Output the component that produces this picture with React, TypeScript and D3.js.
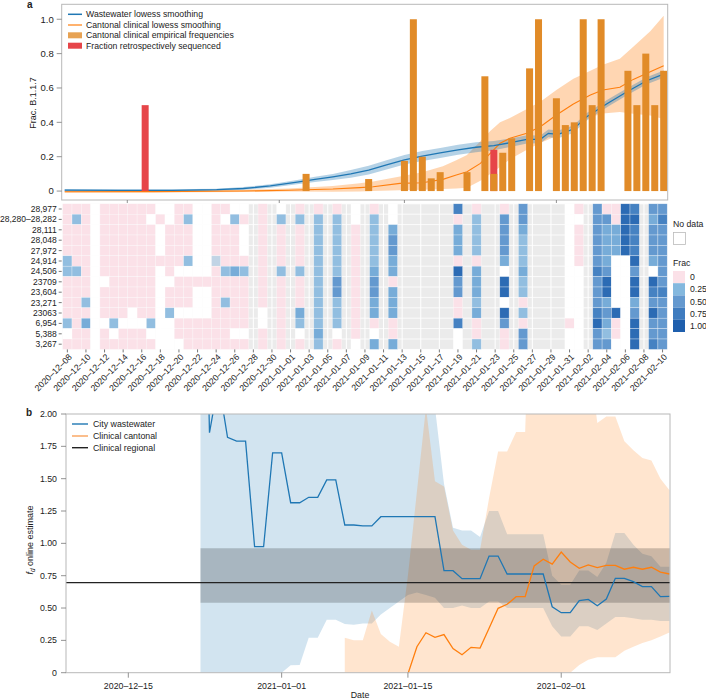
import React from "react";
import * as d3 from "d3";

const FONT = "'Liberation Sans', Arial, Helvetica, sans-serif";
const DAY_MS = 86400000;
const utc = (s: string) => new Date(s + "T00:00:00Z");
const addDays = (s: string, n: number) => new Date(utc(s).getTime() + n * DAY_MS);

// ---------------- Panel a ----------------
const A_START = "2020-12-08";
// [day offset from A_START, estimate, lower, upper]
const WW_LOWESS: number[][] = [
  [0, 0.005, -0.002, 0.012], [6, 0.004, -0.002, 0.01], [12, 0.004, -0.002, 0.01],
  [17, 0.008, 0.002, 0.014], [20, 0.015, 0.007, 0.023], [23, 0.03, 0.02, 0.04],
  [26, 0.052, 0.04, 0.065], [28, 0.068, 0.053, 0.083], [30, 0.083, 0.065, 0.1],
  [32, 0.1, 0.078, 0.122], [34, 0.122, 0.097, 0.147], [36, 0.152, 0.125, 0.179],
  [38, 0.182, 0.154, 0.21], [40, 0.204, 0.175, 0.233], [42, 0.222, 0.193, 0.251],
  [44, 0.24, 0.211, 0.269], [46, 0.255, 0.226, 0.284], [48, 0.265, 0.238, 0.292],
  [50, 0.283, 0.258, 0.308], [51.7, 0.301, 0.277, 0.325], [53.2, 0.301, 0.278, 0.324],
  [54.1, 0.336, 0.313, 0.359], [55.2, 0.33, 0.308, 0.352], [56.9, 0.36, 0.338, 0.382],
  [58.4, 0.433, 0.411, 0.455], [60.7, 0.51, 0.489, 0.531], [62.9, 0.578, 0.557, 0.599],
  [65.1, 0.642, 0.621, 0.663], [67, 0.681, 0.66, 0.702],
];
const CANTON_LOWESS: number[][] = [
  [0, -0.004, -0.01, 0.003], [10, -0.003, -0.009, 0.004], [20, 0.0, -0.006, 0.008],
  [25, 0.005, -0.003, 0.015], [30, 0.012, -0.004, 0.03], [33, 0.02, -0.002, 0.045],
  [34.5, 0.025, 0.0, 0.055], [37.5, 0.045, 0.005, 0.085], [40, 0.048, 0.008, 0.11],
  [42.3, 0.068, 0.012, 0.145], [43.8, 0.093, 0.015, 0.18], [45, 0.112, 0.02, 0.21],
  [46.5, 0.161, 0.06, 0.29], [47.6, 0.22, 0.1, 0.35], [48.7, 0.278, 0.14, 0.4],
  [49.8, 0.307, 0.185, 0.425], [51.7, 0.336, 0.24, 0.478], [53.2, 0.374, 0.28, 0.52],
  [55, 0.443, 0.32, 0.588], [56.9, 0.507, 0.374, 0.654], [58.8, 0.559, 0.43, 0.7],
  [60.2, 0.588, 0.452, 0.735], [62.1, 0.604, 0.46, 0.77], [63.6, 0.65, 0.45, 0.84],
  [65.5, 0.695, 0.44, 0.93], [67, 0.73, 0.42, 1.02],
];
const CANTON_FREQ_DATES = [
  "2021-01-04", "2021-01-11", "2021-01-15", "2021-01-16", "2021-01-17", "2021-01-18",
  "2021-01-19", "2021-01-22", "2021-01-24", "2021-01-25", "2021-01-26", "2021-01-27",
  "2021-01-29", "2021-01-30", "2021-02-01", "2021-02-02", "2021-02-03", "2021-02-04",
  "2021-02-05", "2021-02-06", "2021-02-09", "2021-02-10", "2021-02-11", "2021-02-12",
  "2021-02-13",
];
const CANTON_FREQ = [
  0.1, 0.07, 0.176, 1.0, 0.2, 0.074, 0.11, 0.11, 0.668, 0.1, 0.223, 0.307,
  0.714, 1.0, 0.54, 0.384, 0.4, 1.0, 0.5, 1.0, 0.7, 0.5, 0.8, 0.5, 0.7,
];
const RETRO_DATES = ["2020-12-17", "2021-01-25"];
const RETRO_FRAC = [0.5, 0.24];
const A_YTICKS = [0, 0.2, 0.4, 0.6, 0.8, 1.0];
const A_YLABELS = ["0", "0.2", "0.4", "0.6", "0.8", "1.0"];
const DATE_TICKS = ["2020-12-15", "2021-01-01", "2021-01-15", "2021-02-01"];
const DATE_TICK_LABELS = ["2020–12–15", "2021–01–01", "2021–01–15", "2021–02–01"];
const A_LEGEND = [
  "Wastewater lowess smoothing",
  "Cantonal clinical lowess smoothing",
  "Cantonal clinical empirical frequencies",
  "Fraction retrospectively sequenced",
];

// ---------------- Heatmap ----------------
const MUTATIONS = [
  "28,977", "28,280–28,282", "28,111", "28,048", "27,972", "24,914", "24,506",
  "23709", "23,604", "23,271", "23063", "6,954", "5,388", "3,267",
];
const HEAT_START = "2020-12-08";
const HEAT_DAYS = 65;
// g = not sequenced, n = no data, 0 = zero, x/a/b/c/d/e = increasing fraction
const HEAT_ROWS = [
  "000n000000nn00nn00nng0" + "gng0g0g0gng0gnggggggdg" + "0gg0gcggggn0gc00edgcc",
  "0a0n00000n0n0ann0na0g0" + "gagagagagngagngggggg0g" + "aggcgcggggnngcc0eegbd",
  "000n000000n000nn000ng0" + "g0g0gagag0gagbggggggbg" + "aggcgbggggn0gcbbedgcc",
  "000n000000n000nn000ng0" + "g0g0gagag0gagcggggggbg" + "aggcgaggggn0gcbbedgcc",
  "000n000000n000nn000ng0" + "g0g0gagag0gagcggggggbg" + "aggcgaggggn0gcbbedgcc",
  "a00n000000000annx000g0" + "g0g0gagag0gagbgggggg0g" + "0ggbgaggggn0gcbnnegbc",
  "aa0n000000n0nnnn0abag0" + "gagagagag0gbgbggggggeg" + "bggngbggggnngdcnncgnc",
  "000nn00000nn00000000g0" + "g0g0gagcg0gcg0ggggggcg" + "bggegaggggnngcennegec",
  "000n000000n000nn0000g0" + "g0g0gagcg0gcgbggggggcg" + "bggegaggggnngcennegdd",
  "00an000000n000nn0a00g0" + "g0g0gagag0gbgbgggggg0g" + "aggng0ggggnngcbnnbgcc",
  "000n000n00nannnn0000gn" + "g0gbgagag0gbgbgggggg0g" + "bggegaggggnngdcencgec",
  "a0bnnannnann00000000gn" + "g0gagagag0g0g0ggggggdg" + "0ggcg0gggg0ngeb0negcc",
  "n00n0n000nnn000000nng0" + "g0gngbgng0gng0ggggggng" + "0gg0gcggggnngca0negcc",
  "000n000000nnn0000000g0" + "g0g0gag0gngbgbggggggng" + "agg0gcggggnngccnnegdc",
];
const FRAC_CODES: Record<string, number | null> = {
  "0": 0, x: 0.03, a: 0.2, b: 0.35, c: 0.5, d: 0.7, e: 0.9, n: null,
};
const FRAC_LEGEND = [0, 0.25, 0.5, 0.75, 1];
const FRAC_LEGEND_LABELS = ["0", "0.25", "0.50", "0.75", "1.00"];

// ---------------- Panel b ----------------
const FD_WW_START = "2020-12-23";
const FD_WW = [
  5, 1.855, 2.25, 1.82, 1.79, 1.79, 0.974, 0.974, 1.7, 1.7, 1.314, 1.314, 1.356, 1.356,
  1.49, 1.49, 1.142, 1.142, 1.135, 1.135, 1.206, 1.206, 1.206, 1.206, 1.206, 1.206, 1.206,
  0.789, 0.789, 0.727, 0.727, 0.727, 0.902, 0.902, 0.763, 0.763, 0.763, 0.763, 0.763,
  0.51, 0.464, 0.464, 0.557, 0.567, 0.518, 0.57, 0.73, 0.73, 0.704, 0.665, 0.665, 0.588, 0.59,
];
const FD_WW_LO = [
  0, 0, 0, 0, 0, 0, 0, 0, 0, 0, 0.057, 0.06, 0.27, 0.27, 0.41, 0.41, 0.376, 0.37, 0.38, 0.38,
  0.45, 0.5, 0.55, 0.6, 0.62, 0.6, 0.58, 0.5, 0.5, 0.52, 0.5, 0.5, 0.55, 0.55, 0.5, 0.5, 0.5,
  0.5, 0.5, 0.36, 0.28, 0.28, 0.36, 0.36, 0.33, 0.38, 0.43, 0.43, 0.42, 0.41, 0.41, 0.4, 0.4,
];
const FD_WW_HI = [
  3, 3, 3, 3, 3, 3, 3, 3, 3, 3, 3, 3, 3, 3, 3, 3, 3, 3, 3, 3, 3, 3, 3, 3, 3, 3,
  2.05, 1.46, 1.12, 1.1, 1.1, 1.05, 1.25, 1.25, 1.07, 1.07, 1.07, 1.07, 1.07,
  0.75, 0.68, 0.68, 0.79, 0.79, 0.74, 0.85, 1.08, 1.08, 0.99, 0.92, 0.9, 0.82, 0.82,
];
const FD_CANTON_START = "2021-01-15";
const FD_CANTON = [
  -0.01, 0.201, 0.309, 0.273, 0.295, 0.186, 0.139, 0.196, 0.19, 0.343, 0.498, 0.529,
  0.588, 0.588, 0.825, 0.877, 0.84, 0.933, 0.856, 0.807, 0.833, 0.812, 0.83, 0.83,
  0.8, 0.815, 0.8, 0.815, 0.778, 0.763,
];
const FD_CANTON_CI_START = "2021-01-08";
const FD_CANTON_LO = [
  0, 0, 0, 0, 0, 0, 0, 0, 0, 0, 0, 0, 0, 0, 0, 0, 0, 0, 0, 0, 0, 0, 0, 0, 0, 0,
  0.06, 0.1, 0.12, 0.12, 0.12, 0.17, 0.2, 0.23, 0.25, 0.28, 0.31,
];
const FD_CANTON_HI = [
  0.27, 0.25, 0.25, 0.48, 0.3, 0.24, 0.2, 0.75, 1.4, 2.05, 1.48, 1.44, 1.1, 0.99, 0.95,
  0.95, 1.35, 1.71, 1.71, 1.86, 1.86, 4, 4, 4, 4, 4, 4, 2.5, 1.93, 1.98, 1.98, 1.79,
  1.72, 1.66, 1.64, 1.5, 1.41,
];
const REGIONAL_START = "2020-12-23";
const REGIONAL_END = "2021-02-14";
const REGIONAL_EST = 0.696;
const REGIONAL_LO = 0.541;
const REGIONAL_HI = 0.962;
const B_YTICKS = [0, 0.25, 0.5, 0.75, 1, 1.25, 1.5, 1.75, 2];
const B_YLABELS = ["0", "0.25", "0.50", "0.75", "1.00", "1.25", "1.50", "1.75", "2.00"];
const B_LEGEND = ["City wastewater", "Clinical cantonal", "Clinical regional"];

const BLUE = "#1f77b4";
const ORANGE = "#ff7f0e";
const BAR = "#e18b28";
const RED = "#e64549";
const PINK = "#fbe1e8";
const FRAME = "#b8b8b8";
const TXT = "#222";

export default function App() {
  // ---------- panel a scales ----------
  const aL = 61.7, aR = 667.7, aT = 4.3, aB = 200;
  const xA = d3.scaleUtc().domain([addDays(A_START, -0.336), addDays(A_START, 67.45)]).range([aL, aR]);
  const yA = d3.scaleLinear().domain([-0.052, 1.087]).range([aB, aT]);
  const ax = (d: number[]) => xA(addDays(A_START, d[0]));
  const lineA = d3.line<number[]>().x(ax).y((d) => yA(d[1]));
  const areaA = d3.area<number[]>().x(ax).y0((d) => yA(d[2])).y1((d) => yA(d[3]));
  const barW = 7;

  // ---------- heatmap scales ----------
  const hL = 62.7, hR = 667.2, hT = 203.8, hB = 349.4;
  const xH = d3.scaleBand<number>().domain(d3.range(HEAT_DAYS)).range([hL, hR]);
  const yH = d3.scaleBand<number>().domain(d3.range(MUTATIONS.length)).range([hT, hB]);
  const heatDates = d3.range(HEAT_DAYS).map((i) => addDays(HEAT_START, i));
  const fmt = d3.utcFormat("%Y–%m–%d");
  const blueScale = d3
    .scaleLinear<string>()
    .domain([0, 0.25, 0.5, 0.75, 1])
    .range(["#c9d8e6", "#84b8de", "#6499cf", "#3f7cbf", "#1f5fad"]);

  // ---------- panel b scales ----------
  const bL = 66, bR = 670, bT = 414, bB = 672.7;
  const xB = d3.scaleUtc().domain([addDays("2020-12-08", 0.09), addDays("2020-12-08", 67.06)]).range([bL, bR]);
  const yB = d3.scaleLinear().domain([0, 2]).range([bB, bT]);
  const series = (start: string, vals: number[]) => vals.map((v, i) => ({ t: addDays(start, i), v }));
  const band = (start: string, lo: number[], hi: number[]) =>
    lo.map((l, i) => ({ t: addDays(start, i), lo: l, hi: hi[i] }));
  const lineB = d3.line<{ t: Date; v: number }>().x((d) => xB(d.t)).y((d) => yB(d.v));
  const areaB = d3
    .area<{ t: Date; lo: number; hi: number }>()
    .x((d) => xB(d.t))
    .y0((d) => yB(d.lo))
    .y1((d) => yB(d.hi));
  const wwBand = band(FD_WW_START, FD_WW_LO, FD_WW_HI);
  const cantonBand = band(FD_CANTON_CI_START, FD_CANTON_LO, FD_CANTON_HI);
  const regBand = [
    { t: utc(REGIONAL_START), lo: REGIONAL_LO, hi: REGIONAL_HI },
    { t: utc(REGIONAL_END), lo: REGIONAL_LO, hi: REGIONAL_HI },
  ];

  return (
    <svg
      width={706}
      height={699}
      viewBox="0 0 706 699"
      style={{ position: "absolute", left: 0, top: 0, background: "#fff" }}
      fontFamily={FONT}
    >
      <defs>
        <clipPath id="clipA">
          <rect x={aL} y={aT} width={aR - aL} height={aB - aT} />
        </clipPath>
        <clipPath id="clipB">
          <rect x={bL} y={bT} width={bR - bL} height={bB - bT} />
        </clipPath>
      </defs>

      {/* ================= Panel a ================= */}
      <text x={27} y={8} fontSize={10} fontWeight="bold" fill={TXT}>a</text>
      <g clipPath="url(#clipA)">
        <path d={areaA(CANTON_LOWESS) || ""} fill={ORANGE} fillOpacity={0.32} />
        <path d={areaA(WW_LOWESS) || ""} fill={BLUE} fillOpacity={0.33} />
        <path d={lineA(CANTON_LOWESS) || ""} fill="none" stroke={ORANGE} strokeWidth={1.1} />
        <path d={lineA(WW_LOWESS) || ""} fill="none" stroke={BLUE} strokeWidth={1.3} />
        {RETRO_DATES.map((s, i) => (
          <rect
            key={"r" + i}
            x={xA(utc(s)) - barW / 2}
            y={yA(RETRO_FRAC[i])}
            width={barW}
            height={yA(0) - yA(RETRO_FRAC[i])}
            fill={RED}
          />
        ))}
        {CANTON_FREQ_DATES.map((s, i) => (
          <rect
            key={"b" + i}
            x={xA(utc(s)) - barW / 2}
            y={yA(CANTON_FREQ[i])}
            width={barW}
            height={yA(0) - yA(CANTON_FREQ[i])}
            fill={BAR}
          />
        ))}
      </g>
      <rect x={aL} y={aT} width={aR - aL} height={aB - aT} fill="none" stroke={FRAME} strokeWidth={1} />
      {A_YTICKS.map((v, i) => (
        <g key={"ay" + i}>
          <line x1={aL - 5} x2={aL} y1={yA(v)} y2={yA(v)} stroke="#777" strokeWidth={0.8} />
          <text x={aL - 8} y={yA(v)} dy="0.35em" textAnchor="end" fontSize={9.5} fill={TXT}>
            {A_YLABELS[i]}
          </text>
        </g>
      ))}
      {DATE_TICKS.map((s) => (
        <line key={"axt" + s} x1={xA(utc(s))} x2={xA(utc(s))} y1={aB} y2={aB + 3} stroke="#777" strokeWidth={0.8} />
      ))}
      <text transform={`translate(36,103) rotate(-90)`} textAnchor="middle" fontSize={9} fill={TXT}>
        Frac. B.1.1.7
      </text>
      {/* legend a */}
      <g fontSize={8.7} fill={TXT}>
        <line x1={68} x2={82} y1={14.3} y2={14.3} stroke={BLUE} strokeWidth={1.5} />
        <line x1={68} x2={82} y1={25} y2={25} stroke={ORANGE} strokeWidth={1.2} />
        <rect x={68} y={32.3} width={14} height={6} fill={BAR} fillOpacity={0.8} />
        <rect x={68} y={42.7} width={14} height={6} fill={RED} />
        {A_LEGEND.map((t, i) => (
          <text key={"al" + i} x={86} y={[14.3, 25, 35.3, 45.7][i]} dy="0.35em">
            {t}
          </text>
        ))}
      </g>

      {/* ================= Heatmap ================= */}
      <rect x={hL} y={hT} width={hR - hL} height={hB - hT} fill="#ebebeb" />
      {d3.range(0, HEAT_DAYS, 2).map((i) => (
        <line
          key={"hv" + i}
          x1={(xH(i) as number) + xH.bandwidth() / 2}
          x2={(xH(i) as number) + xH.bandwidth() / 2}
          y1={hT}
          y2={hB}
          stroke="#fff"
          strokeWidth={1}
        />
      ))}
      {d3.range(MUTATIONS.length + 1).map((r) => (
        <line
          key={"hh" + r}
          x1={hL}
          x2={hR}
          y1={hT + r * yH.bandwidth()}
          y2={hT + r * yH.bandwidth()}
          stroke="#fff"
          strokeWidth={0.8}
        />
      ))}
      {HEAT_ROWS.map((row, r) =>
        row.split("").map((c, i) => {
          if (c === "g" || i >= HEAT_DAYS) return null;
          const v = FRAC_CODES[c];
          const fill = v === null || v === undefined ? "#ffffff" : v === 0 ? PINK : blueScale(v);
          return (
            <rect
              key={`c${r}-${i}`}
              x={xH(i)}
              y={yH(r)}
              width={xH.bandwidth()}
              height={yH.bandwidth()}
              fill={fill}
              stroke="#ffffff"
              strokeWidth={0.5}
              strokeOpacity={0.6}
            />
          );
        })
      )}
      {MUTATIONS.map((m, r) => (
        <g key={"hy" + r}>
          <line
            x1={hL - 4}
            x2={hL - 1}
            y1={(yH(r) as number) + yH.bandwidth() / 2}
            y2={(yH(r) as number) + yH.bandwidth() / 2}
            stroke="#555"
            strokeWidth={0.8}
          />
          <text
            x={hL - 6}
            y={(yH(r) as number) + yH.bandwidth() / 2}
            dy="0.35em"
            textAnchor="end"
            fontSize={8.5}
            fill={TXT}
          >
            {m}
          </text>
        </g>
      ))}
      {d3.range(0, HEAT_DAYS, 2).map((i) => {
        const x = (xH(i) as number) + xH.bandwidth() / 2;
        return (
          <g key={"hx" + i}>
            <line x1={x} x2={x} y1={hB} y2={hB + 3} stroke="#555" strokeWidth={0.8} />
            <text
              transform={`translate(${x + 3},${hB + 6}) rotate(-45)`}
              textAnchor="end"
              dy="0.35em"
              fontSize={8.7}
              fill={TXT}
            >
              {fmt(heatDates[i])}
            </text>
          </g>
        );
      })}
      {/* heat legend */}
      <g fontSize={8.7} fill={TXT}>
        <text x={673} y={227}>No data</text>
        <rect x={673.5} y={232.5} width={12} height={12} fill="#fff" stroke="#bbb" strokeWidth={0.8} />
        <text x={673} y={266}>Frac</text>
        {FRAC_LEGEND.map((v, i) => (
          <g key={"fl" + i}>
            <rect x={673} y={271 + i * 12.2} width={12} height={12.2} fill={v === 0 ? PINK : blueScale(v)} />
            <text x={690} y={271 + i * 12.2 + 6.1} dy="0.35em">
              {FRAC_LEGEND_LABELS[i]}
            </text>
          </g>
        ))}
      </g>

      {/* ================= Panel b ================= */}
      <text x={26} y={416} fontSize={10} fontWeight="bold" fill={TXT}>b</text>
      <g clipPath="url(#clipB)">
        <path d={areaB(wwBand) || ""} fill={BLUE} fillOpacity={0.2} />
        <path d={areaB(cantonBand) || ""} fill={ORANGE} fillOpacity={0.2} />
        <path d={areaB(regBand) || ""} fill="#000" fillOpacity={0.2} />
        <line x1={bL} x2={bR} y1={yB(REGIONAL_EST)} y2={yB(REGIONAL_EST)} stroke="#222" strokeWidth={1.3} />
        <path d={lineB(series(FD_WW_START, FD_WW)) || ""} fill="none" stroke={BLUE} strokeWidth={1.3} />
        <path d={lineB(series(FD_CANTON_START, FD_CANTON)) || ""} fill="none" stroke={ORANGE} strokeWidth={1.3} />
      </g>
      <rect x={bL} y={bT} width={bR - bL} height={bB - bT} fill="none" stroke={FRAME} strokeWidth={1} />
      {B_YTICKS.map((v, i) => (
        <g key={"by" + i}>
          <line x1={bL - 5} x2={bL} y1={yB(v)} y2={yB(v)} stroke="#777" strokeWidth={0.8} />
          <text x={bL - 9} y={yB(v)} dy="0.35em" textAnchor="end" fontSize={8.8} fill={TXT}>
            {B_YLABELS[i]}
          </text>
        </g>
      ))}
      {DATE_TICKS.map((s, i) => (
        <g key={"bx" + s}>
          <line x1={xB(utc(s))} x2={xB(utc(s))} y1={bB} y2={bB + 5} stroke="#777" strokeWidth={0.8} />
          <text x={xB(utc(s))} y={bB + 16} textAnchor="middle" fontSize={8.8} fill={TXT}>
            {DATE_TICK_LABELS[i]}
          </text>
        </g>
      ))}
      <text x={360} y={698} textAnchor="middle" fontSize={8.8} fill={TXT}>Date</text>
      <text transform="translate(33,540) rotate(-90)" textAnchor="middle" fontSize={9} fill={TXT}>
        <tspan fontStyle="italic">f</tspan>
        <tspan fontStyle="italic" fontSize={6.5} dy={2}>d</tspan>
        <tspan dy={-2}> online estimate</tspan>
      </text>
      <g fontSize={8.8} fill={TXT}>
        <line x1={72} x2={88} y1={424} y2={424} stroke={BLUE} strokeWidth={1.4} />
        <line x1={72} x2={88} y1={436} y2={436} stroke="#fbb77f" strokeWidth={1.8} />
        <line x1={72} x2={88} y1={447.7} y2={447.7} stroke="#222" strokeWidth={1.4} />
        {B_LEGEND.map((t, i) => (
          <text key={"bl" + i} x={93} y={[424, 436, 447.7][i]} dy="0.35em">
            {t}
          </text>
        ))}
      </g>
    </svg>
  );
}
